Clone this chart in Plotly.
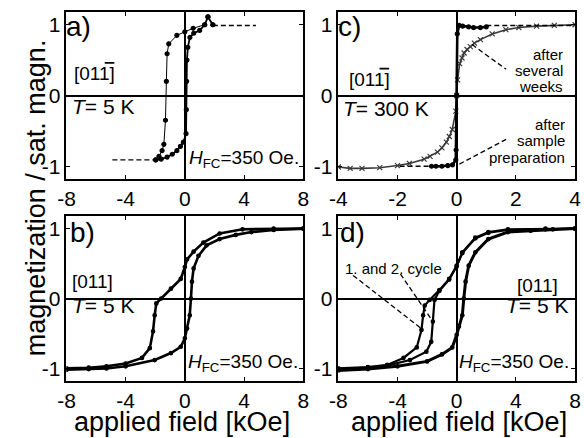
import plotly.graph_objects as go

# ---------------- panel a) : [01-1], T = 5 K ----------------
a_dn_x = [1.89, 1.56, 1.34, 0.56, 0.0, -0.54, -1.09, -1.2, -1.25, -1.31, -1.42, -1.54, -1.75, -1.97]
a_dn_y = [1.0, 1.11, 1.0, 0.95, 0.9, 0.85, 0.73, 0.59, 0.2, -0.35, -0.69, -0.78, -0.86, -0.91]
a_up_x = [-1.97, -1.6, -1.2, -0.85, -0.54, -0.3, -0.1, 0.08, 0.1, 0.12, 0.14, 0.2, 0.34, 0.6, 1.0, 1.34, 1.56, 1.89]
a_up_y = [-0.91, -0.9, -0.87, -0.83, -0.78, -0.72, -0.66, -0.54, -0.2, 0.2, 0.5, 0.68, 0.82, 0.88, 0.92, 1.0, 1.11, 1.0]
a_dash_lo_x = [-4.9, -1.97]
a_dash_lo_y = [-0.91, -0.91]
a_dash_hi_x = [1.89, 4.8]
a_dash_hi_y = [0.99, 0.99]

# ---------------- panel c) : [01-1], T = 300 K ----------------
# square loop measured after sample preparation
c_sq_x = [1.0, 0.8, 0.57, 0.4, 0.2, 0.08, 0.02, 0.0, -0.02, -0.03, -0.14, -0.3, -0.5, -0.7, -0.85]
c_sq_y = [0.97, 0.96, 0.96, 0.97, 0.98, 0.99, 0.87, 0.0, -0.77, -0.91, -0.98, -0.99, -1.0, -1.0, -1.0]
c_sq_dash_hi_x = [1.0, 3.9]
c_sq_dash_hi_y = [0.99, 0.99]
c_sq_dash_lo_x = [-1.93, -0.85]
c_sq_dash_lo_y = [-1.0, -1.0]
# gradual loop measured after several weeks
c_s_x = [-4.0, -3.6, -3.2, -2.6, -2.0, -1.6, -1.1, -0.9, -0.65, -0.5, -0.35, -0.25, -0.15,
         -0.03, 0.0, 0.03, 0.1, 0.18, 0.25, 0.35, 0.46, 0.6, 0.8, 1.2, 1.66, 2.1, 2.7, 3.3, 4.0]
c_s_y = [-1.01, -1.03, -1.03, -1.02, -0.99, -0.96, -0.9, -0.86, -0.8, -0.74, -0.66, -0.58, -0.48,
         -0.22, 0.0, 0.22, 0.45, 0.53, 0.6, 0.65, 0.69, 0.74, 0.79, 0.87, 0.93, 0.96, 0.98, 0.99, 1.0]

# ---------------- panel b) : [011], T = 5 K ----------------
b_dn_x = [8.0, 6.0, 3.9, 2.35, 1.25, 0.59, 0.15, 0.0, -0.28, -0.94, -1.6, -1.93, -2.04,
          -2.15, -2.37, -2.9, -4.0, -5.3, -6.5, -8.0]
b_dn_y = [1.0, 1.0, 0.99, 0.93, 0.8, 0.67, 0.56, 0.45, 0.28, 0.14, 0.0, -0.07, -0.24,
          -0.47, -0.71, -0.85, -0.93, -0.97, -0.99, -1.0]
b_up_x = [-8.0, -6.5, -5.3, -4.0, -2.04, -0.94, -0.28, 0.0, 0.15, 0.33, 0.41, 0.48, 0.59,
          0.92, 1.47, 2.35, 3.44, 4.5, 6.0, 8.0]
b_up_y = [-1.02, -1.01, -1.0, -0.97, -0.88, -0.78, -0.69, -0.57, -0.43, -0.24, 0.0, 0.24,
          0.43, 0.61, 0.76, 0.85, 0.91, 0.95, 0.98, 1.0]

# ---------------- panel d) : [011], T = 5 K, two cycles ----------------
d_dn1_x = [8.0, 6.0, 3.46, 2.14, 1.26, 0.38, 0.0, -0.51, -1.17, -1.83, -2.16, -2.27,
           -2.38, -2.7, -3.6, -4.7, -6.0, -8.0]
d_dn1_y = [1.0, 1.0, 0.99, 0.95, 0.87, 0.66, 0.47, 0.28, 0.12, -0.02, -0.1, -0.24,
           -0.45, -0.7, -0.85, -0.95, -0.98, -1.0]
d_dn2_x = [8.0, 6.0, 3.46, 2.14, 1.26, 0.38, 0.0, -0.51, -1.17, -1.5, -1.61, -1.72,
           -2.05, -3.16, -4.7, -6.0, -8.0]
d_dn2_y = [1.0, 0.99, 0.98, 0.94, 0.86, 0.65, 0.46, 0.27, 0.11, -0.02, -0.33, -0.62,
           -0.76, -0.88, -0.96, -0.99, -1.01]
d_up_x = [-8.0, -6.0, -4.0, -2.0, -1.0, -0.3, 0.0, 0.15, 0.38, 0.48, 0.6, 0.81, 1.26,
          2.14, 3.46, 5.0, 6.5, 8.0]
d_up_y = [-1.03, -1.01, -0.97, -0.9, -0.8, -0.7, -0.52, -0.4, -0.24, 0.0, 0.24, 0.47,
          0.66, 0.85, 0.95, 0.97, 0.99, 1.0]
# leader lines of the "1. and 2. cycle" label
d_lead1_x = [-7.0, -2.45]
d_lead1_y = [0.33, -0.42]
d_lead2_x = [-3.8, -1.7]
d_lead2_y = [0.35, -0.3]
# leader lines of the labels in c)
c_lead1_x = [0.52, 1.67]
c_lead1_y = [0.72, 0.37]
c_lead2_x = [0.09, 1.67]
c_lead2_y = [-0.97, -0.62]

# tick labels
x_ticks_wide = [-8, -4, 0, 4, 8]
x_ticks_wide_text = ["-8", "-4", "0", "4", "8"]
x_ticks_narrow = [-4, -2, 0, 2, 4]
x_ticks_narrow_text = ["-4", "-2", "0", "2", "4"]
y_ticks = [-1, 0, 1]
y_ticks_text = ["-1", "0", "1"]

FONT = "Arial, Liberation Sans, sans-serif"
W, H = 584, 438

fig = go.Figure()


def curve(x, y, xa, ya, width=1.0, msize=3.5, color="black", symbol="circle", dash=None,
          markers=True):
    fig.add_trace(go.Scatter(
        x=x, y=y, xaxis=xa, yaxis=ya,
        mode="lines+markers" if markers else "lines",
        line=dict(color=color, width=width, dash=dash),
        marker=dict(color=color, size=msize, symbol=symbol,
                    line=dict(color=color, width=1.2)),
        showlegend=False, hoverinfo="skip"))


DASH = "5px,3px"

# a)
curve(a_dn_x, a_dn_y, "x", "y", width=1.0, msize=4)
curve(a_up_x, a_up_y, "x", "y", width=1.8, msize=4)
curve(a_dash_lo_x, a_dash_lo_y, "x", "y", width=1.4, dash=DASH, markers=False)
curve(a_dash_hi_x, a_dash_hi_y, "x", "y", width=1.4, dash=DASH, markers=False)

# c)
curve(c_s_x, c_s_y, "x2", "y2", width=1.6, msize=5, color="#3a3a3a", symbol="x-thin")
curve(c_sq_x, c_sq_y, "x2", "y2", width=2.6, msize=4)
curve(c_sq_dash_hi_x, c_sq_dash_hi_y, "x2", "y2", width=1.4, dash=DASH, markers=False)
curve(c_sq_dash_lo_x, c_sq_dash_lo_y, "x2", "y2", width=1.4, dash=DASH, markers=False)
curve(c_lead1_x, c_lead1_y, "x2", "y2", width=1.3, dash=DASH, markers=False)
curve(c_lead2_x, c_lead2_y, "x2", "y2", width=1.3, dash=DASH, markers=False)

# b)
curve(b_dn_x, b_dn_y, "x3", "y3", width=2.6, msize=3.5)
curve(b_up_x, b_up_y, "x3", "y3", width=2.6, msize=3.5)

# d)
curve(d_dn1_x, d_dn1_y, "x4", "y4", width=2.2, msize=3.5)
curve(d_dn2_x, d_dn2_y, "x4", "y4", width=2.2, msize=3.5)
curve(d_up_x, d_up_y, "x4", "y4", width=3.0, msize=3.5)
curve(d_lead1_x, d_lead1_y, "x4", "y4", width=1.3, dash=DASH, markers=False)
curve(d_lead2_x, d_lead2_y, "x4", "y4", width=1.3, dash=DASH, markers=False)


# ---- axes ----
def xdom(l, r):
    return [l / W, r / W]


def ydom(t, b):
    return [(H - b) / H, (H - t) / H]


common = dict(showline=True, linecolor="black", linewidth=1.5, mirror="ticks",
              ticks="inside", ticklen=4, tickwidth=1.2, tickcolor="black",
              showgrid=False, zeroline=True, zerolinecolor="black", zerolinewidth=1.6,
              tickfont=dict(family=FONT, size=21, color="black"))
YR = [-1.18, 1.18]
wide = dict(range=[-8, 8], tickvals=x_ticks_wide, ticktext=x_ticks_wide_text)
narrow = dict(range=[-4, 4], tickvals=x_ticks_narrow, ticktext=x_ticks_narrow_text)
yax = dict(range=YR, tickvals=y_ticks, ticktext=y_ticks_text)

fig.update_layout(
    width=W, height=H, margin=dict(l=0, r=0, t=0, b=0),
    paper_bgcolor="white", plot_bgcolor="white",
    xaxis=dict(domain=xdom(59, 302), anchor="y", **wide, **common),
    yaxis=dict(domain=ydom(12, 179), anchor="x", **yax, **common),
    xaxis2=dict(domain=xdom(338, 581), anchor="y2", **narrow, **common),
    yaxis2=dict(domain=ydom(12, 179), anchor="x2", **yax, **common),
    xaxis3=dict(domain=xdom(59, 302), anchor="y3", **wide, **common),
    yaxis3=dict(domain=ydom(216, 381), anchor="x3", **yax, **common),
    xaxis4=dict(domain=xdom(338, 581), anchor="y4", **wide, **common),
    yaxis4=dict(domain=ydom(216, 381), anchor="x4", **yax, **common),
)

ann = []
shapes = []


def text(s, x, y, xa, ya, size=20, xanchor="left", yanchor="middle", shift=None):
    if shift is None:
        shift = -5 if xanchor == "left" else (3 if xanchor == "right" else 0)
    ann.append(dict(text=s, x=x, y=y, xref=xa, yref=ya, showarrow=False,
                    xanchor=xanchor, yanchor=yanchor, xshift=shift,
                    font=dict(family=FONT, size=size, color="black")))


def direction_bar(x, y, xa, ya, size=19):
    # "[011]" with a bar over the last index
    text("[011]", x, y, xa, ya, size=size)
    adv = 2 + (0.278 + 0.556 * 2) * size - 5 + 4
    shapes.append(dict(type="line", xref=xa, yref=ya, xsizemode="pixel", ysizemode="pixel",
                       xanchor=x, yanchor=y, x0=adv + 0.5, x1=adv + 0.556 * size - 0.5,
                       y0=size * 0.56, y1=size * 0.56,
                       line=dict(color="black", width=1.6)))


HFC = "<i>H</i><sub>FC</sub>=350 Oe."

# a)
text("a)", -7.85, 0.97, "x", "y", size=28)
direction_bar(-7.3, 0.31, "x", "y")
text("<i>T</i>= 5 K", -7.4, -0.16, "x", "y", size=21)
text(HFC, 0.45, -0.9, "x", "y", size=19)
# c)
text("c)", -3.9, 0.97, "x2", "y2", size=28)
direction_bar(-3.55, 0.23, "x2", "y2")
text("<i>T</i>= 300 K", -3.75, -0.19, "x2", "y2", size=21)
for s, yy in (("after", 0.58), ("several", 0.35), ("weeks", 0.13)):
    text(s, 3.55, yy, "x2", "y2", size=15, xanchor="right")
for s, yy in (("after", -0.41), ("sample", -0.64), ("preparation", -0.87)):
    text(s, 3.62, yy, "x2", "y2", size=15, xanchor="right")
# b)
text("b)", -7.55, 0.94, "x3", "y3", size=28)
text("[011]", -7.4, 0.24, "x3", "y3", size=19)
text("<i>T</i>= 5 K", -7.4, -0.1, "x3", "y3", size=21)
text(HFC, 0.4, -0.92, "x3", "y3", size=19)
# d)
text("d)", -7.7, 0.94, "x4", "y4", size=28)
text("1. and 2. cycle", -4.25, 0.43, "x4", "y4", size=15, xanchor="center")
text("[011]", 6.75, 0.19, "x4", "y4", size=19, xanchor="right")
text("<i>T</i>= 5 K", 7.45, -0.1, "x4", "y4", size=21, xanchor="right")
text(HFC, 0.35, -0.92, "x4", "y4", size=19)

# axis titles
ann.append(dict(text="magnetization / sat. magn.", x=28 / W, y=(H - 198) / H,
                xref="paper", yref="paper", showarrow=False, textangle=-90,
                xanchor="center", yanchor="middle",
                font=dict(family=FONT, size=27, color="black")))
for cx in (178, 462):
    ann.append(dict(text="applied field [kOe]", x=cx / W, y=(H - 421.5) / H,
                    xref="paper", yref="paper", showarrow=False,
                    xanchor="center", yanchor="middle",
                    font=dict(family=FONT, size=27, color="black")))

fig.update_layout(annotations=ann, shapes=shapes)
fig.write_html("out.html")
